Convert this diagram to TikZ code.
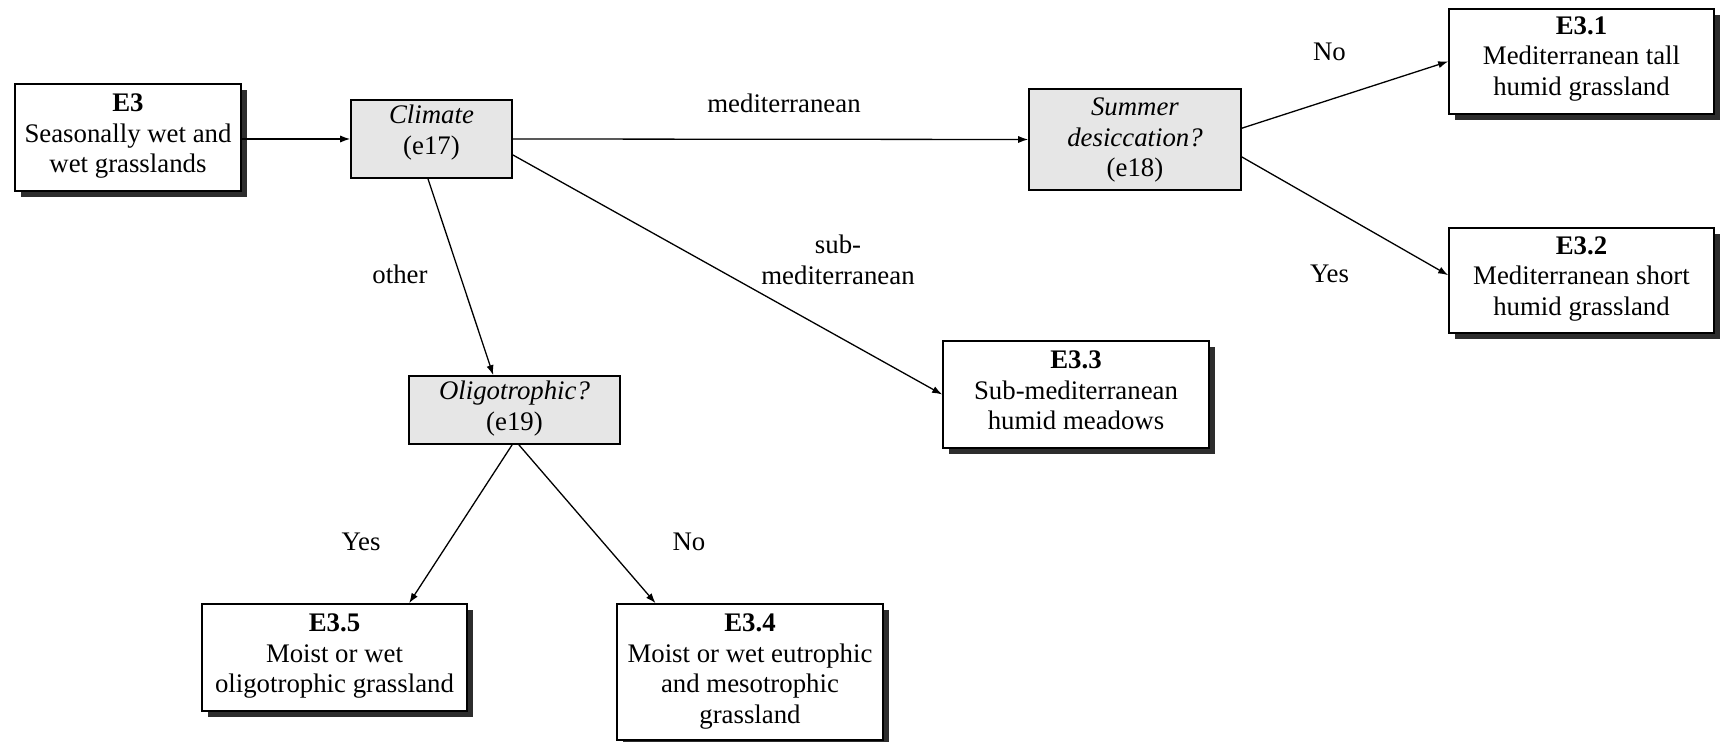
\documentclass[tikz,border=0pt]{standalone}
\usepackage{fontspec}
\setmainfont{Liberation Serif}
\usetikzlibrary{arrows.meta,shadows,calc}
\definecolor{decfill}{RGB}{230,230,230}
\definecolor{shade}{RGB}{45,45,45}

\begin{document}
\begin{tikzpicture}[x=0.5pt,y=-0.5pt,
  every node/.style={font=\fontsize{13.4}{15.3}\selectfont},
  leaf/.style={draw, line width=0.85pt, fill=white, inner sep=0pt,
    drop shadow={shadow xshift=3pt, shadow yshift=-3pt, fill=shade, opacity=1}},
  decision/.style={draw, line width=0.85pt, fill=decfill, inner sep=0pt},
  boxtext/.style={anchor=north, align=center, inner sep=0pt, yshift=-2.7pt},
  leaftext/.style={boxtext, yshift=-2.4pt},
  edgelabel/.style={inner sep=0pt, align=center},
  link/.style={line width=0.65pt, -{Latex[length=5pt,width=3.6pt]}}
]
\useasboundingbox (0,0) rectangle (1720,742);

% habitat boxes (with shadow)
\node[leaf, minimum width=113pt, minimum height=53.5pt] (e3) at (128,137.5) {};
\node[leaftext] (e3t) at (e3.north) {\textbf{E3}\\Seasonally wet and\\wet grasslands};

\node[leaf, minimum width=132.5pt, minimum height=52.5pt] (e31) at (1581.5,61.5) {};
\node[boxtext, yshift=-1.2pt] (e31t) at (e31.north) {\textbf{E3.1}\\Mediterranean tall\\humid grassland};

\node[leaf, minimum width=132.5pt, minimum height=52.5pt] (e32) at (1581.5,280.5) {};
\node[boxtext, yshift=-1.8pt] (e32t) at (e32.north) {\textbf{E3.2}\\Mediterranean short\\humid grassland};

\node[leaf, minimum width=133pt, minimum height=53.5pt] (e33) at (1076,394.5) {};
\node[leaftext] (e33t) at (e33.north) {\textbf{E3.3}\\Sub-mediterranean\\humid meadows};

\node[leaf, minimum width=132.5pt, minimum height=53.5pt] (e35) at (334.5,657.5) {};
\node[leaftext] (e35t) at (e35.north) {\textbf{E3.5}\\Moist or wet\\oligotrophic grassland};

\node[leaf, minimum width=133pt, minimum height=68pt] (e34) at (750,672) {};
\node[leaftext] (e34t) at (e34.north) {\textbf{E3.4}\\Moist or wet eutrophic\\and mesotrophic\\grassland};

% decision boxes
\node[decision, minimum width=80.5pt, minimum height=39pt] (climate) at (431.5,139) {};
\node[boxtext] (climatet) at (climate.north) {\textit{Climate}\\(e17)};

\node[decision, minimum width=106pt, minimum height=50.5pt] (summer) at (1135,139.5) {};
\node[boxtext, yshift=-2pt] (summert) at (summer.north) {\textit{Summer}\\\textit{desiccation?}\\(e18)};

\node[decision, minimum width=105.5pt, minimum height=34pt] (oligo) at (514.5,410) {};
\node[boxtext] (oligot) at (oligo.north) {\textit{Oligotrophic?}\\(e19)};

% connectors
\draw[link] (e3.east |- climate.west) -- (climate.west);
\draw[link] (climate.east) -- (summer.west);
\draw[link] ($(climate.north east)!0.7!(climate.south east)$) -- (e33.west);
\draw[link] ([xshift=-1.75pt]climate.south) -- ($(oligo.north west)!0.4!(oligo.north east)$);
\draw[link] ($(summer.north east)!0.39!(summer.south east)$) -- (e31.west);
\draw[link] ($(summer.north east)!0.67!(summer.south east)$) -- ($(e32.north west)!0.45!(e32.south west)$);
\draw[link] ([xshift=-1.2pt]oligo.south) -- ($(e35.north west)!0.78!(e35.north east)$);
\draw[link] ([xshift=2.2pt]oligo.south) -- ($(e34.north west)!0.147!(e34.north east)$);

% branch labels
\node[edgelabel] (lmed) at (784,103) {mediterranean};
\node[edgelabel] (lsub) at (838,260) {sub-\\mediterranean};
\node[edgelabel] (lother) at (400,274) {other};
\node[edgelabel] (lno1) at (1329.5,51.6) {No};
\node[edgelabel] (lyes1) at (1329.5,274) {Yes};
\node[edgelabel] (lyes2) at (361,542) {Yes};
\node[edgelabel] (lno2) at (689,542) {No};
\end{tikzpicture}
\end{document}
